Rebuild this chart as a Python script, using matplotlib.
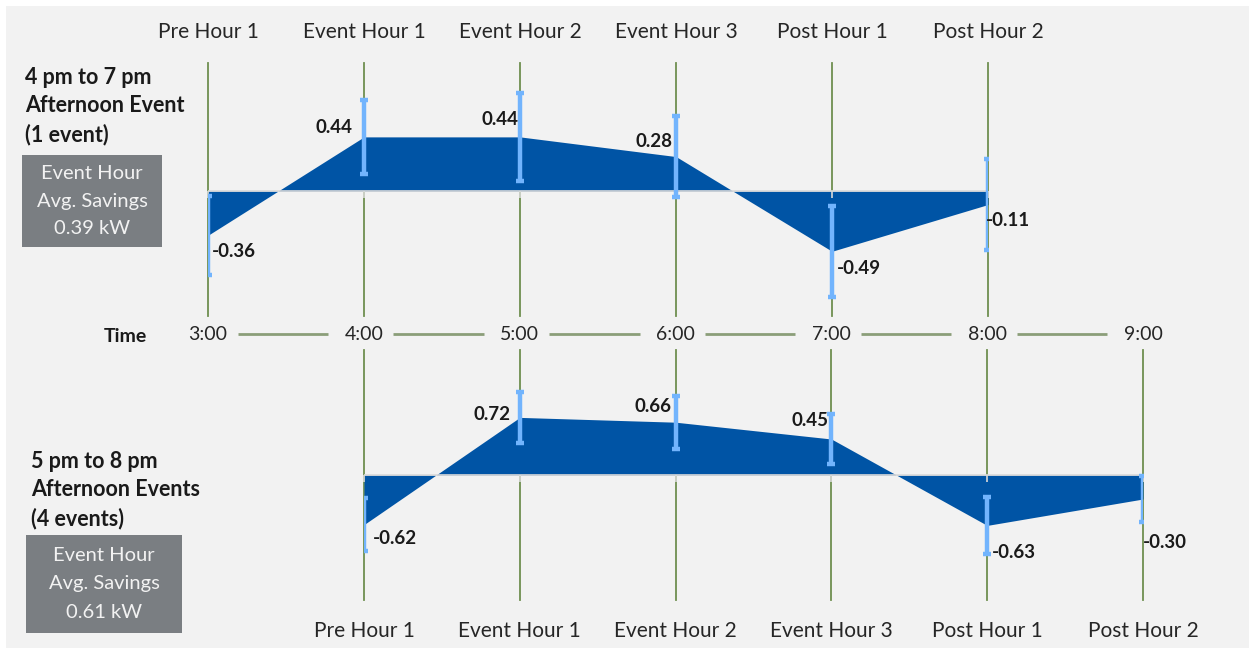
import matplotlib
matplotlib.use("Agg")
import matplotlib.pyplot as plt
from matplotlib.patches import Rectangle
import numpy as np

W, H = 1249, 652
plt.rcParams["font.family"] = ["Lato", "DejaVu Sans"]

# ---- data ----
hour_labels = ["Pre Hour 1", "Event Hour 1", "Event Hour 2",
               "Event Hour 3", "Post Hour 1", "Post Hour 2"]
time_labels = ["3:00", "4:00", "5:00", "6:00", "7:00", "8:00", "9:00"]

savings_4to7 = [-0.36, 0.44, 0.44, 0.28, -0.49, -0.11]
ci_4to7 = [0.32, 0.30, 0.36, 0.33, 0.37, 0.37]

savings_5to8 = [-0.62, 0.72, 0.66, 0.45, -0.63, -0.30]
ci_5to8 = [0.33, 0.32, 0.33, 0.31, 0.36, 0.29]

# ---- style ----
BG = "#f2f2f2"
FILL = "#0054a5"
ERR = "#72b4fd"
GRID = "#6f8f50"
CONNECT = "#8b9e79"
AXIS = "#d9d9d9"
BOX = "#7a7e82"

fig = plt.figure(figsize=(W / 100, H / 100), dpi=100)
fig.patch.set_facecolor("white")
fig.add_artist(Rectangle((6 / W, 1 - 648 / H), (W - 6) / W, 642 / H,
                         transform=fig.transFigure, facecolor=BG,
                         edgecolor="none", zorder=0))


def px_rect(x0, y0, x1, y1):
    """Figure-fraction rectangle from pixel bounds (origin top-left)."""
    return [x0 / W, 1 - y1 / H, (x1 - x0) / W, (y1 - y0) / H]


def fx(x):
    return x / W


def fy(y):
    return 1 - y / H


def draw_panel(rect, ylim, values, ci, label_offsets, labels_top):
    ax = fig.add_axes(rect)
    ax.set_xlim(0, len(values) - 1)
    ax.set_ylim(*ylim)
    ax.axis("off")
    x = np.arange(len(values))
    vals = np.asarray(values)

    for xi in x:
        ax.axvline(xi, color=GRID, lw=1.3, zorder=1, clip_on=False)
    ax.fill_between(x, 0, vals, color=FILL, lw=0, zorder=2)
    ax.axhline(0, color=AXIS, lw=1.2, zorder=3)
    ax.plot(x, np.zeros(len(x)), ls="none", marker=3, ms=5, mew=1.2,
            color=AXIS, zorder=3, clip_on=False)
    ax.errorbar(x, vals, yerr=ci, fmt="none", ecolor=ERR, elinewidth=3.2,
                capsize=3.2, capthick=3.2, zorder=4)

    for xi, v, (dx, dy) in zip(x, vals, label_offsets):
        ax.annotate(f"{v:.2f}", xy=(xi, v), xytext=(dx, dy),
                    textcoords="offset pixels",
                    ha="right" if v > 0 else "left", va="center",
                    fontsize=13.5, fontweight="bold", color="#1a1a1a",
                    zorder=5)

    for xi, lab in zip(x, hour_labels):
        if labels_top:
            ax.annotate(lab, xy=(xi, 1), xycoords=("data", "axes fraction"),
                        xytext=(0, 31), textcoords="offset pixels",
                        ha="center", va="center", fontsize=15,
                        color="#262626", annotation_clip=False)
        else:
            ax.annotate(lab, xy=(xi, 0), xycoords=("data", "axes fraction"),
                        xytext=(0, -31), textcoords="offset pixels",
                        ha="center", va="center", fontsize=15,
                        color="#262626", annotation_clip=False)
    return ax


# 4 pm - 7 pm panel: baseline at 191 px, 123 px per kW
draw_panel(px_rect(208, 63, 988, 316),
           (-(316 - 191) / 123, (191 - 63) / 123),
           savings_4to7, ci_4to7,
           [(4, -16), (-11, 9), (-2, 17), (-3, 15), (5, -17), (-2, -16)],
           labels_top=True)

# 5 pm - 8 pm panel: baseline at 475 px, 80 px per kW
draw_panel(px_rect(364, 350, 1143, 600),
           (-(600 - 475) / 80, (475 - 350) / 80),
           savings_5to8, ci_5to8,
           [(9, -14), (-9, 3), (-4, 16), (-3, 19), (5, -27), (0, -43)],
           labels_top=False)

# ---- shared clock-time row ----
tax = fig.add_axes(px_rect(208, 320, 1143, 350))
tax.set_xlim(0, len(time_labels) - 1)
tax.set_ylim(0, 1)
tax.axis("off")
for i, t in enumerate(time_labels):
    tax.text(i, 0.5, t, ha="center", va="center", fontsize=14,
             color="#262626")
    if i < len(time_labels) - 1:
        tax.plot([i + 0.19, i + 1 - 0.23], [0.55, 0.55], color=CONNECT,
                 lw=2, solid_capstyle="butt")
fig.text(fx(125), fy(337), "Time", ha="center", va="center",
         fontsize=14, fontweight="bold", color="#1a1a1a")


# ---- panel titles and summary boxes ----
def panel_caption(x, ys, lines, box, ev_vals):
    for y, line in zip(ys, lines):
        fig.text(fx(x), fy(y), line, ha="left", va="center", fontsize=15.5,
                 fontweight="bold", color="#1a1a1a")
    bx0, by0, bx1, by1 = box
    fig.add_artist(Rectangle((fx(bx0), fy(by1)), (bx1 - bx0) / W,
                             (by1 - by0) / H, transform=fig.transFigure,
                             facecolor=BOX, edgecolor="none"))
    avg = np.mean(ev_vals)
    cx = (bx0 + bx1) / 2
    box_lines = ["Event Hour", "Avg. Savings", f"{avg:.2f} kW"]
    step = (by1 - by0) / 3.4
    mid = (by0 + by1) / 2
    for k, line in enumerate(box_lines):
        fig.text(fx(cx), fy(mid + (k - 1) * step), line, ha="center",
                 va="center", fontsize=14.5, color="#f2f2f2")


panel_caption(25, [77, 106, 135],
              ["4 pm to 7 pm", "Afternoon Event", "(1 event)"],
              (22, 155, 162, 247), savings_4to7[1:4])
panel_caption(31, [461, 490, 519],
              ["5 pm to 8 pm", "Afternoon Events", "(4 events)"],
              (26, 535, 182, 633), savings_5to8[1:4])

fig.savefig("out.png", dpi=100, facecolor=fig.get_facecolor())
